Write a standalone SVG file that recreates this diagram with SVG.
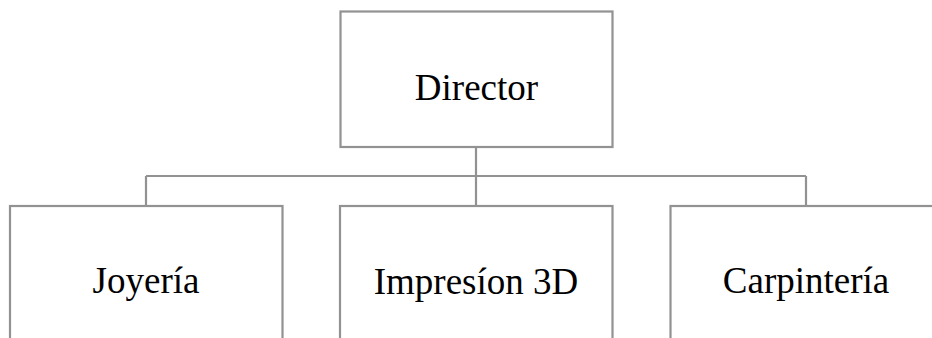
<svg xmlns="http://www.w3.org/2000/svg" width="932" height="338" viewBox="0 0 932 338">
  <style>
    .box { fill: #ffffff; stroke: #929292; stroke-width: 2.2; }
    .link { fill: none; stroke: #929292; stroke-width: 2.2; }
    .label { font-family: "Liberation Serif", "Times New Roman", serif; font-size: 37px; fill: #000000; text-anchor: middle; }
  </style>
  <rect width="932" height="338" fill="#ffffff"/>
  <g id="connectors">
    <path class="link" d="M476 147 V206"/>
    <path class="link" d="M146 176 H806"/>
    <path class="link" d="M146 176 V206"/>
    <path class="link" d="M806 176 V206"/>
  </g>
  <g id="director">
    <rect class="box" x="340.5" y="11.5" width="272" height="135.5"/>
    <text class="label" x="476.5" y="100">Director</text>
  </g>
  <g id="joyeria">
    <rect class="box" x="10" y="206" width="272.5" height="140"/>
    <text class="label" x="146" y="293">Joyería</text>
  </g>
  <g id="impresion-3d">
    <rect class="box" x="340" y="206" width="272.5" height="140"/>
    <text class="label" x="476" y="294">Impresíon 3D</text>
  </g>
  <g id="carpinteria">
    <rect class="box" x="670.5" y="206" width="272.5" height="140"/>
    <text class="label" x="806" y="293">Carpintería</text>
  </g>
</svg>
